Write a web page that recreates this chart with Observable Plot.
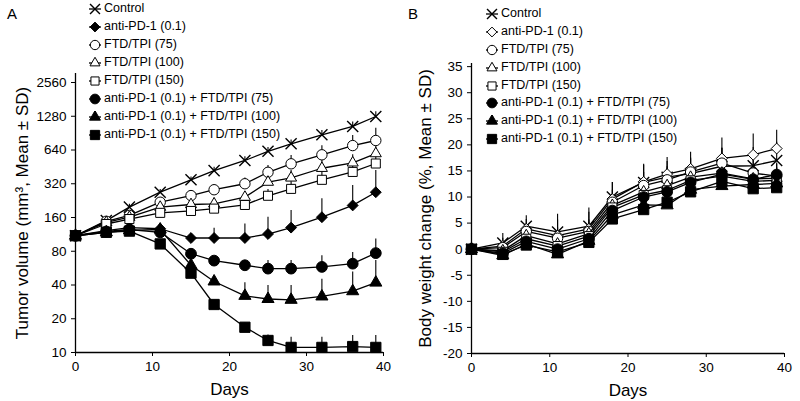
<!DOCTYPE html>
<html><head><meta charset="utf-8">
<script src="https://cdn.jsdelivr.net/npm/d3@7"></script>
<script src="https://cdn.jsdelivr.net/npm/@observablehq/plot@0.6"></script>
<style>
body{margin:0;background:#fff}
#fig{position:relative;width:800px;height:401px;overflow:hidden;font-family:"Liberation Sans",Arial,sans-serif;color:#000;background:#fff}
.panel{position:absolute;top:0}
.tag{position:absolute;font-size:15px;line-height:15px}
.legend{position:absolute;font-size:12.5px;line-height:17.9px}
.legend .row{display:flex;align-items:center;height:17.9px;white-space:nowrap}
.legend svg{flex:none;margin-right:2px}
</style></head>
<body>
<div id="fig">
  <div id="panelA" class="panel" style="left:0"></div>
  <div id="panelB" class="panel" style="left:400px"></div>
  <div class="tag" style="left:7px;top:6px">A</div>
  <div class="tag" style="left:408px;top:6px">B</div>
  <div id="legendA" class="legend" style="left:88px;top:0.4px"></div>
  <div id="legendB" class="legend" style="left:485px;top:5px"></div>
</div>
<script>
// ---------- data ----------
const days = [0, 4, 7, 11, 15, 18, 22, 25, 28, 32, 36, 39];
const seriesLabels = [
  "Control",
  "anti-PD-1 (0.1)",
  "FTD/TPI (75)",
  "FTD/TPI (100)",
  "FTD/TPI (150)",
  "anti-PD-1 (0.1) + FTD/TPI (75)",
  "anti-PD-1 (0.1) + FTD/TPI (100)",
  "anti-PD-1 (0.1) + FTD/TPI (150)"
];

// Panel A: tumor volume (mm3), mean and SD
const tvControl = [110, 150, 198, 269, 347, 419, 516, 623, 727, 874, 1038, 1273];
const tvControlSD = [0, 8, 12, 15, 20, 30, 40, 50, 60, 80, 100, 130];
const tvAnti = [110, 122, 130, 127, 105, 105, 105, 114, 130, 161, 205, 269];
const tvAntiSD = [0, 8, 10, 12, 10, 23, 35, 47, 55, 74, 104, 151];
const tvF75 = [110, 148, 167, 219, 251, 283, 320, 405, 482, 580, 701, 778];
const tvF75SD = [0, 10, 15, 20, 25, 30, 40, 60, 90, 120, 160, 220];
const tvF100 = [110, 145, 161, 198, 209, 212, 243, 331, 361, 440, 492, 595];
const tvF100SD = [0, 10, 12, 15, 20, 25, 30, 45, 60, 80, 90, 110];
const tvF150 = [110, 140, 155, 176, 183, 192, 207, 250, 288, 347, 408, 485];
const tvF150SD = [0, 10, 12, 15, 18, 20, 25, 35, 45, 60, 80, 110];
const tvC75 = [110, 120, 125, 118, 76, 66, 60, 56, 56, 58, 62, 77];
const tvC75SD = [0, 5, 6, 8, 5, 4, 6, 10, 10, 15, 16, 26];
const tvC100 = [110, 118, 123, 125, 60, 43, 32, 30, 29.5, 31.6, 35.2, 42];
const tvC100SD = [0, 5, 6, 8, 5, 3, 10, 9.6, 10, 13.4, 17, 24];
const tvC150 = [110, 118, 121, 93, 51, 26.8, 16.8, 12.8, 11.1, 11.1, 11.3, 11.1];
const tvC150SD = [0, 4, 5, 6, 4, 2, 1.5, 1.5, 2.6, 2.6, 2.9, 3.1];

// Panel B: body weight change (%), mean and SD
const bwControl = [0, 1.2, 4.4, 3.3, 4.4, 10.0, 12.8, 13.8, 14.5, 15.9, 16.0, 17.0];
const bwControlSD = [0, 1.8, 2.0, 3.4, 3.5, 2.8, 3.3, 3.0, 3.0, 3.5, 3.5, 3.5];
const bwAnti = [0, 0.6, 3.9, 2.6, 3.9, 9.6, 12.9, 14.4, 15.4, 17.4, 18.1, 19.3];
const bwAntiSD = [0, 1.5, 1.8, 3.0, 3.2, 3.2, 3.4, 3.2, 3.2, 3.9, 4.0, 3.5];
const bwF75 = [0, 0.3, 3.4, 2.1, 3.4, 9.0, 12.2, 13.3, 14.8, 16.5, 14.6, 14.0];
const bwF75SD = [0, 1.2, 1.5, 2.0, 2.2, 2.3, 2.5, 2.5, 2.5, 2.8, 2.5, 2.5];
const bwF100 = [0, -0.3, 2.6, 1.0, 3.0, 8.4, 11.0, 12.2, 13.8, 14.6, 13.5, 13.6];
const bwF100SD = [0, 1.2, 1.5, 2.0, 2.0, 2.0, 2.2, 2.2, 2.0, 2.2, 2.0, 2.0];
const bwF150 = [0, -0.5, 2.0, 0.6, 2.5, 8.0, 10.4, 11.3, 13.2, 14.0, 13.0, 13.2];
const bwF150SD = [0, 1.2, 1.5, 2.0, 2.0, 2.0, 2.0, 2.0, 2.0, 2.0, 2.0, 2.0];
const bwC75 = [0, -0.8, 1.5, 0.0, 2.0, 7.4, 10.0, 11.0, 12.8, 14.4, 13.4, 14.3];
const bwC75SD = [0, 1.2, 1.5, 2.0, 2.0, 2.0, 2.0, 2.0, 2.0, 2.0, 2.0, 2.0];
const bwC100 = [0, -1.2, 1.0, -1.0, 1.6, 6.6, 8.5, 8.4, 11.4, 12.1, 12.4, 12.6];
const bwC100SD = [0, 1.2, 1.5, 2.0, 2.0, 2.0, 2.0, 2.0, 2.0, 2.0, 2.0, 2.0];
const bwC150 = [0, -1.0, 0.8, -0.5, 1.3, 5.8, 7.6, 9.0, 11.0, 13.0, 11.6, 11.8];
const bwC150SD = [0, 1.2, 1.5, 2.0, 2.0, 2.0, 2.0, 2.0, 2.0, 2.0, 2.0, 2.0];

const xTicks = [0, 10, 20, 30, 40];
const yTicksA = [10, 20, 40, 80, 160, 320, 640, 1280, 2560];
const yTicksB = [-20, -15, -10, -5, 0, 5, 10, 15, 20, 25, 30, 35];
const titleA = "Tumor volume (mm\u00B3, Mean \u00B1 SD)";
const titleB = "Body weight change (%, Mean \u00B1 SD)";
const xTitle = "Days";

// ---------- styles ----------
const stylesA = [
  {symbol: "times", r: 5.1, fill: "none"},
  {symbol: "diamond2", r: 4.9, fill: "#000"},
  {symbol: "circle", r: 5.2, fill: "#fff"},
  {symbol: "triangle", r: 4.1, fill: "#fff"},
  {symbol: "square", r: 5.1, fill: "#fff"},
  {symbol: "circle", r: 5.4, fill: "#000"},
  {symbol: "triangle", r: 4.5, fill: "#000"},
  {symbol: "square", r: 5.8, fill: "#000"}
];
const stylesB = stylesA.map((s, i) => i === 1 ? {...s, fill: "#fff"} : s);

function makeRows(means, sds) {
  const rows = [];
  means.forEach((m, i) => m.forEach((v, j) => rows.push({series: i, day: days[j], mean: v, top: v + sds[i][j]})));
  return rows;
}
const rowsA = makeRows(
  [tvControl, tvAnti, tvF75, tvF100, tvF150, tvC75, tvC100, tvC150],
  [tvControlSD, tvAntiSD, tvF75SD, tvF100SD, tvF150SD, tvC75SD, tvC100SD, tvC150SD]);
const rowsB = makeRows(
  [bwControl, bwAnti, bwF75, bwF100, bwF150, bwC75, bwC100, bwC150],
  [bwControlSD, bwAntiSD, bwF75SD, bwF100SD, bwF150SD, bwC75SD, bwC100SD, bwC150SD]);

function panel({rows, styles, y, yTicks, yBase, yTitle, margins, titleDx}) {
  const marks = [
    Plot.ruleX(rows.filter(d => d.top > d.mean), {x: "day", y1: "mean", y2: "top", stroke: "#000", strokeWidth: 1.1})
  ];
  styles.forEach((s, i) => {
    const data = rows.filter(d => d.series === i);
    marks.push(Plot.line(data, {x: "day", y: "mean", stroke: "#000", strokeWidth: 1.3}));
    marks.push(Plot.dot(data, {x: "day", y: "mean", symbol: s.symbol, r: s.r, fill: s.fill, stroke: "#000",
      strokeWidth: s.symbol === "times" ? 1.4 : 1}));
  });
  marks.push(
    Plot.ruleX([0], {stroke: "#000", strokeWidth: 1.3}),
    Plot.ruleY([yBase], {stroke: "#000", strokeWidth: 1.3}),
    Plot.axisX({ticks: xTicks, tickSize: 4, tickPadding: 5, fontSize: 13.5, label: null, tickFormat: d => String(d)}),
    Plot.axisY({ticks: yTicks, tickSize: 4, tickPadding: 5, fontSize: 13.5, label: null, tickFormat: d => String(d)}),
    Plot.text([xTitle], {text: d => d, frameAnchor: "bottom", lineAnchor: "bottom", dy: 42, fontSize: 17}),
    Plot.text([yTitle], {text: d => d, frameAnchor: "left", rotate: -90, dx: titleDx, fontSize: 17,
      textAnchor: "middle", lineAnchor: "middle"})
  );
  return Plot.plot({
    width: 400, height: 401, ...margins,
    style: {fontFamily: "'Liberation Sans', Arial, sans-serif", color: "#000", background: "transparent", overflow: "visible"},
    x: {domain: [0, 40]},
    y,
    marks
  });
}

document.getElementById("panelA").append(panel({
  rows: rowsA, styles: stylesA,
  y: {type: "log", base: 2, domain: [10, 3080]},
  yTicks: yTicksA, yBase: 10, yTitle: titleA, titleDx: -53,
  margins: {marginLeft: 75, marginRight: 17, marginTop: 73, marginBottom: 49}
}));
document.getElementById("panelB").append(panel({
  rows: rowsB, styles: stylesB,
  y: {domain: [-20, 35.6]},
  yTicks: yTicksB, yBase: -20, yTitle: titleB, titleDx: -46,
  margins: {marginLeft: 71, marginRight: 16, marginTop: 63, marginBottom: 48}
}));

// ---------- legends ----------
const d3Sym = {times: d3.symbolTimes, diamond2: d3.symbolDiamond2, circle: d3.symbolCircle,
  triangle: d3.symbolTriangle, square: d3.symbolSquare};
function legend(el, styles) {
  const root = d3.select(el);
  styles.forEach((s, i) => {
    const row = root.append("div").attr("class", "row");
    const svg = row.append("svg").attr("width", 14).attr("height", 12);
    svg.append("line").attr("x1", 1).attr("x2", 13).attr("y1", 6).attr("y2", 6)
      .attr("stroke", "#000").attr("stroke-width", 1.3);
    const rr = s.r * 0.9;
    svg.append("path").attr("transform", "translate(7,6)")
      .attr("d", d3.symbol(d3Sym[s.symbol], Math.PI * rr * rr)())
      .attr("fill", s.fill).attr("stroke", "#000").attr("stroke-width", s.symbol === "times" ? 1.4 : 1);
    row.append("span").text(seriesLabels[i]);
  });
}
legend(document.getElementById("legendA"), stylesA);
legend(document.getElementById("legendB"), stylesB);
</script>
</body></html>
